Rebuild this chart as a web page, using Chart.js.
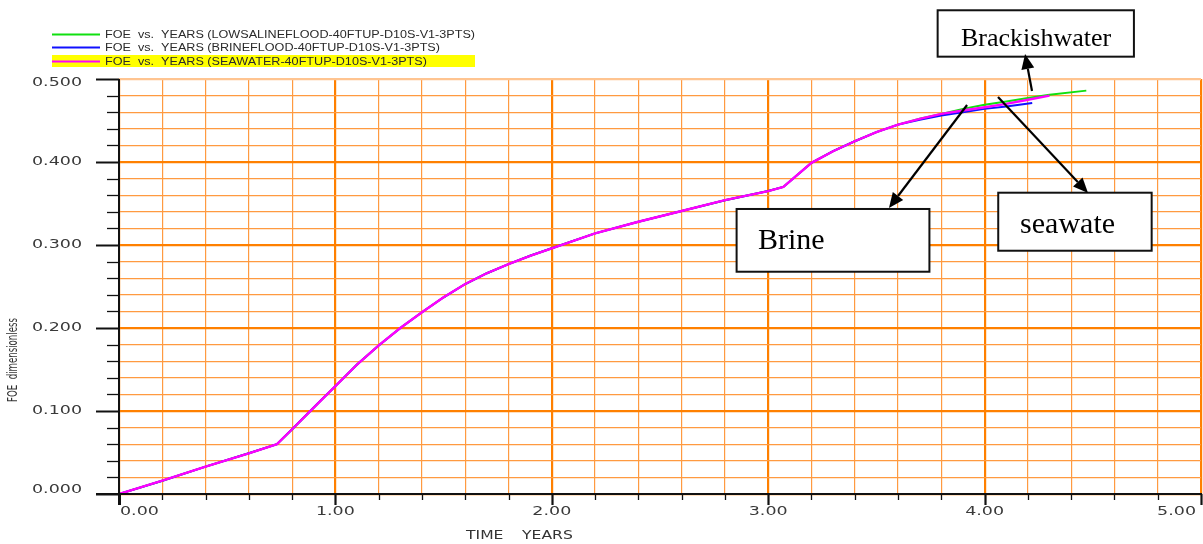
<!DOCTYPE html>
<html>
<head>
<meta charset="utf-8">
<script src="https://cdn.jsdelivr.net/npm/chart.js@4.4.0/dist/chart.umd.min.js"></script>
<style>
html,body{margin:0;padding:0;background:#fff;}
#wrap{width:1203px;height:544px;position:relative;}
</style>
</head>
<body>
<div id="wrap"><canvas id="c"></canvas></div>
<script>
// ---------- data ----------
const seriesNames = [
  'FOE  vs.  YEARS (LOWSALINEFLOOD-40FTUP-D10S-V1-3PTS)',
  'FOE  vs.  YEARS (BRINEFLOOD-40FTUP-D10S-V1-3PTS)',
  'FOE  vs.  YEARS (SEAWATER-40FTUP-D10S-V1-3PTS)'
];
const yearsLow   = [0, 0.2, 0.4, 0.6, 0.73, 0.8, 0.93, 1.0, 1.1, 1.2, 1.3, 1.4, 1.5, 1.6, 1.7, 1.8, 1.9, 2.0, 2.2, 2.4, 2.6, 2.8, 3.0, 3.07, 3.2, 3.3, 3.4, 3.5, 3.6, 3.7, 3.8, 3.9, 4.0, 4.1, 4.2, 4.3, 4.47];
const foeLow     = [0, 0.016, 0.033, 0.049, 0.060, 0.078, 0.112, 0.130, 0.156, 0.179, 0.200, 0.219, 0.237, 0.253, 0.266, 0.277, 0.287, 0.296, 0.314, 0.328, 0.341, 0.354, 0.365, 0.370, 0.399, 0.413, 0.425, 0.436, 0.445, 0.452, 0.458, 0.464, 0.469, 0.473, 0.477, 0.481, 0.486];
const yearsBrine = [0, 0.2, 0.4, 0.6, 0.73, 0.8, 0.93, 1.0, 1.1, 1.2, 1.3, 1.4, 1.5, 1.6, 1.7, 1.8, 1.9, 2.0, 2.2, 2.4, 2.6, 2.8, 3.0, 3.07, 3.2, 3.3, 3.4, 3.5, 3.6, 3.7, 3.8, 3.9, 4.0, 4.1, 4.22];
const foeBrine   = [0, 0.016, 0.033, 0.049, 0.060, 0.078, 0.112, 0.130, 0.156, 0.179, 0.200, 0.219, 0.237, 0.253, 0.266, 0.277, 0.287, 0.296, 0.314, 0.328, 0.341, 0.354, 0.365, 0.370, 0.399, 0.413, 0.425, 0.436, 0.445, 0.451, 0.456, 0.460, 0.464, 0.467, 0.471];
const yearsSea   = [0, 0.2, 0.4, 0.6, 0.73, 0.8, 0.93, 1.0, 1.1, 1.2, 1.3, 1.4, 1.5, 1.6, 1.7, 1.8, 1.9, 2.0, 2.2, 2.4, 2.6, 2.8, 3.0, 3.07, 3.2, 3.3, 3.4, 3.5, 3.6, 3.7, 3.8, 3.9, 4.0, 4.1, 4.2, 4.3];
const foeSea     = [0, 0.016, 0.033, 0.049, 0.060, 0.078, 0.112, 0.130, 0.156, 0.179, 0.200, 0.219, 0.237, 0.253, 0.266, 0.277, 0.287, 0.296, 0.314, 0.328, 0.341, 0.354, 0.365, 0.370, 0.399, 0.413, 0.425, 0.436, 0.445, 0.452, 0.458, 0.462, 0.466, 0.470, 0.475, 0.480];
const xTickLabels = ['0.00', '1.00', '2.00', '3.00', '4.00', '5.00'];
const yTickLabels = ['0.000', '0.100', '0.200', '0.300', '0.400', '0.500'];
const xTitleWords = ['TIME', 'YEARS'];
const yTitle = 'FOE  dimensionless';
const annotationLabels = ['Brackishwater', 'Brine', 'seawate'];

// ---------- layout / style (not data) ----------
const annotations = [
  {text: annotationLabels[0], box: [3.783, 0.5828, 4.690, 0.5269], tx: 4.238, ty: 0.5401, align: 'center', size: 26,
   arrow: [4.219, 0.4855, 4.187, 0.5301]},
  {text: annotationLabels[1], box: [2.854, 0.3434, 3.745, 0.2678], tx: 2.953, ty: 0.2952, align: 'left', size: 30,
   arrow: [3.919, 0.4687, 3.558, 0.3446]},
  {text: annotationLabels[2], box: [4.063, 0.3630, 4.772, 0.2931], tx: 4.164, ty: 0.3145, align: 'left', size: 30,
   arrow: [4.062, 0.4783, 4.478, 0.3627]}
];
const colors = ['#10e010', '#1010ff', '#ff00ff'];

function pts(xs, ys) { return xs.map((x, i) => ({x: x, y: ys[i]})); }
function isMajorX(v) { return Math.abs(v - Math.round(v)) < 1e-6; }
function isMajorY(v) { return Math.abs(v * 10 - Math.round(v * 10)) < 1e-6; }

function seg(ctx, x1, y1, x2, y2, w, col) {
  ctx.beginPath(); ctx.lineWidth = w; ctx.strokeStyle = col || '#111';
  ctx.moveTo(x1, y1); ctx.lineTo(x2, y2); ctx.stroke();
}
function stretchText(ctx, text, x, y, font, sx, align, color, baseline) {
  ctx.save();
  ctx.font = font; ctx.fillStyle = color; ctx.textAlign = align; ctx.textBaseline = baseline || 'middle';
  ctx.translate(x, y); ctx.scale(sx, 1); ctx.fillText(text, 0, 0);
  ctx.restore();
}
function arrow(ctx, x1, y1, x2, y2) {
  const ang = Math.atan2(y2 - y1, x2 - x1), L = 15, W = 6.5;
  const bx = x2 - L * Math.cos(ang), by = y2 - L * Math.sin(ang);
  seg(ctx, x1, y1, bx, by, 2.2, '#000');
  ctx.beginPath(); ctx.fillStyle = '#000';
  ctx.moveTo(x2, y2);
  ctx.lineTo(bx + W * Math.sin(ang), by - W * Math.cos(ang));
  ctx.lineTo(bx - W * Math.sin(ang), by + W * Math.cos(ang));
  ctx.closePath(); ctx.fill();
}

const overlay = {
  id: 'overlay',
  afterDraw(chart) {
    const ctx = chart.ctx, xs = chart.scales.x, ys = chart.scales.y, ca = chart.chartArea;
    ctx.save();
    ctx.lineCap = 'butt';
    // axis lines
    seg(ctx, ca.left, ca.top, ca.left, ca.bottom + 1, 2);
    seg(ctx, ca.left - 23, ca.bottom, ca.right + 1, ca.bottom, 2);
    // tick marks
    ys.ticks.forEach(t => {
      const py = Math.round(ys.getPixelForValue(t.value)) + 0.5;
      const maj = isMajorY(t.value);
      seg(ctx, ca.left - (maj ? 23 : 12), py, ca.left, py, maj ? 2 : 1.3);
    });
    xs.ticks.forEach(t => {
      const px = Math.round(xs.getPixelForValue(t.value)) + 0.5;
      const maj = isMajorX(t.value);
      seg(ctx, px, ca.bottom, px, ca.bottom + (maj ? 11 : 6), maj ? (t.value === 0 ? 3 : 2.2) : 1.3);
    });
    // tick labels
    const tickFont = '12px "DejaVu Sans"';
    ctx.font = tickFont;
    const sxT = 50 / ctx.measureText('0.500').width;
    ys.ticks.forEach(t => {
      if (!isMajorY(t.value)) return;
      let py = ys.getPixelForValue(t.value);
      py = Math.min(Math.max(py, ca.top + 4), ca.bottom - 4);
      stretchText(ctx, yTickLabels[Math.round(t.value * 10)], ca.left - 37, py, tickFont, sxT, 'right', '#3a3a3a');
    });
    xs.ticks.forEach(t => {
      if (!isMajorX(t.value)) return;
      const lbl = xTickLabels[Math.round(t.value)];
      ctx.font = tickFont;
      const w = ctx.measureText(lbl).width * sxT;
      const px = xs.getPixelForValue(t.value);
      let left = px - w / 2;
      if (left < ca.left + 1) left = ca.left + 1;
      if (left + w > ca.right - 5) left = ca.right - 5 - w;
      stretchText(ctx, lbl, left, ca.bottom + 18, tickFont, sxT, 'left', '#3a3a3a');
    });
    // axis titles
    stretchText(ctx, xTitleWords[0], 466, 536, '12px "DejaVu Sans"', 1.3, 'left', '#333');
    stretchText(ctx, xTitleWords[1], 522, 536, '12px "DejaVu Sans"', 1.3, 'left', '#333');
    ctx.save();
    ctx.translate(17, 402); ctx.rotate(-Math.PI / 2);
    ctx.font = '10px "DejaVu Sans"';
    const tw = ctx.measureText(yTitle).width;
    ctx.scale(84 / tw, 1.35);
    ctx.fillStyle = '#333'; ctx.textAlign = 'left'; ctx.textBaseline = 'alphabetic';
    ctx.fillText(yTitle, 0, 0);
    ctx.restore();
    // legend
    const legFont = '10px "Liberation Sans"';
    ctx.font = legFont;
    const sxL = 370 / ctx.measureText(seriesNames[0]).width;
    const legY = [34.5, 47.5, 61.5];
    ctx.fillStyle = '#ffff00';
    ctx.fillRect(52, 55, 423, 12);
    seriesNames.forEach((nm, i) => {
      seg(ctx, 52, legY[i], 100, legY[i], 2, colors[i]);
      stretchText(ctx, nm, 105, legY[i] + 1, legFont, sxL, 'left', '#2a2a2a');
    });
    // annotations
    annotations.forEach(a => {
      const x1 = xs.getPixelForValue(a.box[0]), y1 = ys.getPixelForValue(a.box[1]);
      const x2 = xs.getPixelForValue(a.box[2]), y2 = ys.getPixelForValue(a.box[3]);
      ctx.fillStyle = '#fff';
      ctx.fillRect(x1, y1, x2 - x1, y2 - y1);
      ctx.lineWidth = 2; ctx.strokeStyle = '#111';
      ctx.strokeRect(x1, y1, x2 - x1, y2 - y1);
      ctx.font = a.size + 'px "Liberation Serif"';
      ctx.fillStyle = '#000'; ctx.textAlign = a.align; ctx.textBaseline = 'alphabetic';
      ctx.fillText(a.text, xs.getPixelForValue(a.tx), ys.getPixelForValue(a.ty));
      arrow(ctx, xs.getPixelForValue(a.arrow[0]), ys.getPixelForValue(a.arrow[1]),
                 xs.getPixelForValue(a.arrow[2]), ys.getPixelForValue(a.arrow[3]));
    });
    ctx.restore();
  }
};

new Chart(document.getElementById('c'), {
  type: 'scatter',
  data: {
    datasets: [
      {label: seriesNames[0], data: pts(yearsLow, foeLow), borderColor: colors[0], backgroundColor: colors[0], showLine: true, borderWidth: 2, order: 3},
      {label: seriesNames[1], data: pts(yearsBrine, foeBrine), borderColor: colors[1], backgroundColor: colors[1], showLine: true, borderWidth: 2, order: 2},
      {label: seriesNames[2], data: pts(yearsSea, foeSea), borderColor: colors[2], backgroundColor: colors[2], showLine: true, borderWidth: 2.4, order: 1}
    ]
  },
  options: {
    responsive: true, maintainAspectRatio: false, animation: false, devicePixelRatio: 1,
    layout: {padding: {top: 79, right: 2, left: 0, bottom: 0}},
    elements: {point: {radius: 0, hoverRadius: 0}, line: {tension: 0}},
    plugins: {legend: {display: false}, tooltip: {enabled: false}, title: {display: false}},
    events: [],
    scales: {
      x: {
        type: 'linear', min: 0, max: 5,
        ticks: {stepSize: 0.2, maxTicksLimit: 1000, display: false},
        grid: {
          drawTicks: false,
          color: c => isMajorX(c.tick.value) ? '#ff8000' : '#ff9a40',
          lineWidth: c => isMajorX(c.tick.value) ? 2.2 : 1.2
        },
        border: {display: false},
        afterFit: s => { s.height = 50; }
      },
      y: {
        type: 'linear', min: 0, max: 0.5,
        ticks: {stepSize: 0.02, maxTicksLimit: 1000, display: false},
        grid: {
          drawTicks: false,
          color: c => Math.abs(c.tick.value - 0.5) < 1e-6 ? '#ffc490' : (isMajorY(c.tick.value) ? '#ff8000' : '#ff9a40'),
          lineWidth: c => isMajorY(c.tick.value) ? 2.2 : 1.2
        },
        border: {display: false},
        afterFit: s => { s.width = 119; }
      }
    }
  },
  plugins: [overlay]
});
</script>
</body>
</html>
